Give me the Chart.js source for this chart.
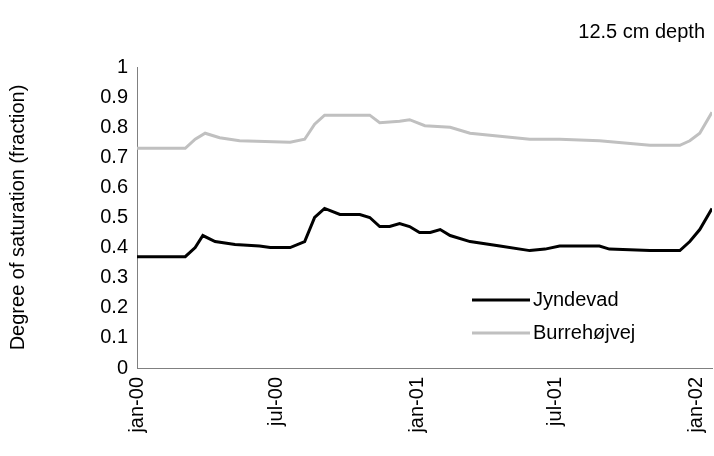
<!DOCTYPE html>
<html><head><meta charset="utf-8">
<script src="https://cdn.jsdelivr.net/npm/chart.js@4"></script>
<style>body{margin:0;background:#fff}#w{width:714px;height:456px}</style>
</head><body><div id="w"><canvas id="c"></canvas></div>
<script>
// days since 1 Jan 2000
const jyDays = [0,56,63,76,86,102,128,160,174,200,219,232,245,265,291,304,317,330,343,356,369,383,396,409,435,474,513,533,552,604,617,670,709,722,735,751];
const jyVals = [0.37,0.37,0.37,0.40,0.44,0.42,0.41,0.405,0.40,0.40,0.42,0.50,0.53,0.51,0.51,0.50,0.47,0.47,0.48,0.47,0.45,0.45,0.46,0.44,0.42,0.405,0.39,0.395,0.405,0.405,0.395,0.39,0.39,0.42,0.46,0.53];
const buDays = [0,63,76,89,108,134,200,219,232,245,304,317,343,356,376,409,435,474,513,552,604,670,709,722,735,751];
const buVals = [0.73,0.73,0.76,0.78,0.765,0.755,0.75,0.76,0.81,0.84,0.84,0.815,0.82,0.825,0.805,0.80,0.78,0.77,0.76,0.76,0.755,0.74,0.74,0.755,0.78,0.85];
const tickDays = [0,182,366,547,731];
const tickLabels = ['jan-00','jul-00','jan-01','jul-01','jan-02'];
const seriesNames = ['Jyndevad','Burrehøjvej'];
const colors = ['#000000','#c0c0c0'];
const F = '"Liberation Sans", Arial, sans-serif';

const legendPlugin = {
  id: 'inLegend',
  afterDraw(chart) {
    const ctx = chart.ctx;
    ctx.save();
    ctx.font = '20px ' + F;
    ctx.textBaseline = 'middle';
    [0,1].forEach(i => {
      const y = 300 + i * 33;
      ctx.strokeStyle = colors[i]; ctx.lineWidth = 3;
      ctx.beginPath(); ctx.moveTo(472, y); ctx.lineTo(530, y); ctx.stroke();
      ctx.fillStyle = '#000';
      ctx.fillText(seriesNames[i], 533, y);
    });
    ctx.textAlign = 'right';
    ctx.fillText('12.5 cm depth', 705, 32);
    ctx.restore();
  }
};

new Chart(document.getElementById('c'), {
  type: 'line',
  data: {
    datasets: [
      { label: seriesNames[0], data: jyDays.map((d,i)=>({x:d,y:jyVals[i]})), borderColor: colors[0], borderWidth: 3, pointRadius: 0, tension: 0 },
      { label: seriesNames[1], data: buDays.map((d,i)=>({x:d,y:buVals[i]})), borderColor: colors[1], borderWidth: 3, pointRadius: 0, tension: 0 }
    ]
  },
  options: {
    responsive: true, maintainAspectRatio: false, animation: false,
    layout: { padding: { top: 67, right: 2, left: 6, bottom: 0 } },
    plugins: { legend: { display: false }, tooltip: { enabled: false } },
    scales: {
      x: {
        type: 'linear', min: 0, max: 751,
        grid: { display: false, drawTicks: true, tickLength: 6, tickColor: '#808080' },
        border: { color: '#808080' },
        afterBuildTicks: ax => { ax.ticks = tickDays.map(v => ({ value: v })); },
        afterFit: ax => { ax.height = 88; ax.paddingRight = 0; ax.paddingLeft = 0; },
        ticks: { color: '#000', font: { size: 20, family: F }, maxRotation: 90, minRotation: 90, autoSkip: false,
          callback: v => tickLabels[tickDays.indexOf(v)] }
      },
      y: {
        min: 0, max: 1,
        grid: { display: false, tickLength: 6, tickColor: '#808080' },
        border: { color: '#808080' },
        afterFit: ax => { ax.width = 131; },
        ticks: { stepSize: 0.1, color: '#000', font: { size: 20, family: F }, callback: v => Math.round(v*10)/10 },
        title: { display: true, text: 'Degree of saturation (fraction)', color: '#000', font: { size: 20, family: F }, padding: { top: 0, bottom: 30 } }
      }
    }
  },
  plugins: [legendPlugin]
});
</script></body></html>
